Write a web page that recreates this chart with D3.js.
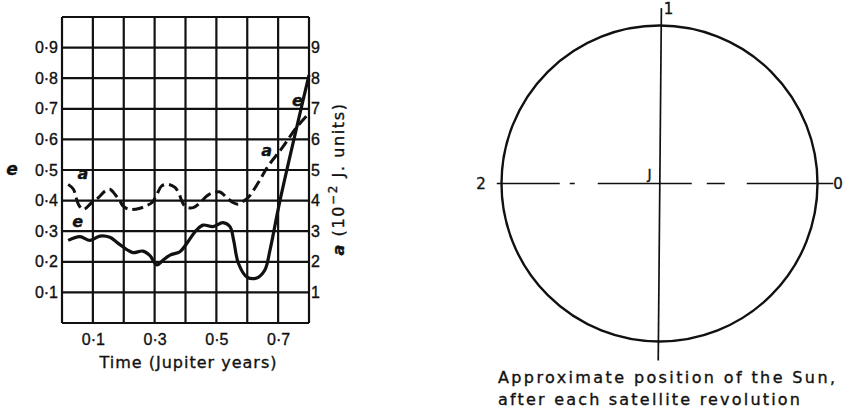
<!DOCTYPE html>
<html>
<head>
<meta charset="utf-8">
<script src="https://cdn.jsdelivr.net/npm/d3@7"></script>
<style>
  body { margin: 0; background: #fff; }
  svg { display: block; font-family: "DejaVu Sans", sans-serif; }
  svg text { stroke: #111; stroke-width: 0.35px; }
  .tick text { font-size: 16px; fill: #111; }
</style>
</head>
<body>
<script>
// eccentricity e (time in Jupiter years)
var eTime = [0.02, 0.058, 0.091, 0.123, 0.155, 0.18, 0.21, 0.23, 0.262, 0.285, 0.307, 0.327, 0.35, 0.382,
             0.404, 0.436, 0.457, 0.489, 0.521, 0.544, 0.556, 0.571, 0.598, 0.631, 0.657, 0.674, 0.706, 0.80];
var eVals = [0.27, 0.282, 0.27, 0.284, 0.28, 0.262, 0.24, 0.23, 0.235, 0.22, 0.19, 0.205, 0.222, 0.233,
             0.26, 0.304, 0.32, 0.315, 0.328, 0.315, 0.27, 0.196, 0.151, 0.147, 0.173, 0.24, 0.40, 0.81];

// semi-major axis a (10^-2 J. units), dashed curve
var aTime = [0.02, 0.037, 0.053, 0.069, 0.096, 0.118, 0.139, 0.155, 0.172, 0.188, 0.198, 0.22, 0.253, 0.269,
             0.291, 0.307, 0.323, 0.344, 0.366, 0.377, 0.398, 0.425, 0.447, 0.469, 0.49, 0.512, 0.533, 0.555,
             0.571, 0.587, 0.603, 0.636, 0.667, 0.713, 0.758, 0.80];
var aVals = [4.53, 4.37, 3.88, 3.71, 3.93, 4.10, 4.31, 4.37, 4.20, 3.98, 3.82, 3.71, 3.75, 3.82,
             3.93, 4.20, 4.48, 4.53, 4.43, 4.27, 3.82, 3.77, 3.93, 4.15, 4.26, 4.28, 4.10, 3.93,
             3.88, 3.98, 4.10, 4.59, 5.12, 5.72, 6.37, 6.85];

var eTicks = [0.1, 0.2, 0.3, 0.4, 0.5, 0.6, 0.7, 0.8, 0.9];
var aTicks = [1, 2, 3, 4, 5, 6, 7, 8, 9];
var timeTicks = [0.1, 0.3, 0.5, 0.7];

// Sun position diagram: revolution number and angle (deg)
var sunLabels = ["0", "1", "2"];
var sunAngles = [0, 90, 180];

var width = 848, height = 413;
var ink = "#111";

var svg = d3.select('body').append('svg')
    .attr('width', width)
    .attr('height', height);

// ---- left: e and a against time ----
var x = d3.scaleLinear().domain([0, 0.8]).range([62, 309]);
var y = d3.scaleLinear().domain([0, 1]).range([323, 17]);
var yA = d3.scaleLinear().domain([0, 10]).range([323, 17]);

var chart = svg.append('g');

// grid
chart.selectAll('line.vgrid')
    .data(d3.range(0, 9).map(function(i){ return i / 10; }))
  .enter().append('line')
    .attr('class', 'vgrid')
    .attr('x1', function(d){ return x(d); })
    .attr('x2', function(d){ return x(d); })
    .attr('y1', y(0)).attr('y2', y(1))
    .attr('stroke', ink).attr('stroke-width', 2.2);

chart.selectAll('line.hgrid')
    .data(d3.range(0, 11).map(function(i){ return i / 10; }))
  .enter().append('line')
    .attr('class', 'hgrid')
    .attr('x1', x(0)).attr('x2', x(0.8))
    .attr('y1', function(d){ return y(d); })
    .attr('y2', function(d){ return y(d); })
    .attr('stroke', ink).attr('stroke-width', 2.2);

var fmt = function(d){ return d.toFixed(1).replace('.', '\u00b7'); };

var left = chart.append('g')
    .attr('transform', 'translate(' + x(0) + ',0)')
    .call(d3.axisLeft(y).tickValues(eTicks).tickSize(0).tickPadding(4).tickFormat(fmt));
var right = chart.append('g')
    .attr('transform', 'translate(' + x(0.8) + ',0)')
    .call(d3.axisRight(yA).tickValues(aTicks).tickSize(0).tickPadding(2).tickFormat(d3.format('d')));
var bottom = chart.append('g')
    .attr('transform', 'translate(0,' + y(0) + ')')
    .call(d3.axisBottom(x).tickValues(timeTicks).tickSize(0).tickPadding(11).tickFormat(fmt));
[left, right, bottom].forEach(function(g){ g.select('.domain').remove(); });

// curves
var eLine = d3.line()
    .x(function(d, i){ return x(eTime[i]); })
    .y(function(d){ return y(d); })
    .curve(d3.curveCatmullRom.alpha(0.5));
var aLine = d3.line()
    .x(function(d, i){ return x(aTime[i]); })
    .y(function(d){ return yA(d); })
    .curve(d3.curveCatmullRom.alpha(0.5));

chart.append('path').datum(eVals)
    .attr('d', eLine)
    .attr('fill', 'none').attr('stroke', ink).attr('stroke-width', 3.2)
    .attr('stroke-linejoin', 'round');
chart.append('path').datum(aVals)
    .attr('d', aLine)
    .attr('fill', 'none').attr('stroke', ink).attr('stroke-width', 3)
    .attr('stroke-dasharray', '11,5');

// curve labels
var curveLabels = [
  {t: 'a', tx: 0.05, v: 0.47},
  {t: 'e', tx: 0.033, v: 0.315},
  {t: 'a', tx: 0.645, v: 0.545},
  {t: 'e', tx: 0.745, v: 0.71}
];
chart.selectAll('text.clab').data(curveLabels).enter().append('text')
    .attr('class', 'clab')
    .attr('x', function(d){ return x(d.tx); })
    .attr('y', function(d){ return y(d.v); })
    .attr('font-size', 16).attr('font-style', 'italic').attr('font-weight', 'bold')
    .attr('fill', ink)
    .text(function(d){ return d.t; });

// axis titles
svg.append('text')
    .attr('x', 12).attr('y', y(0.5) + 5)
    .attr('text-anchor', 'middle')
    .attr('font-size', 17).attr('font-weight', 'bold').attr('font-style', 'italic')
    .attr('fill', ink).text('e');

var rt = svg.append('text')
    .attr('transform', 'translate(344,179) rotate(-90)')
    .attr('text-anchor', 'middle')
    .attr('font-size', 16).attr('letter-spacing', 1.6).attr('fill', ink);
rt.append('tspan').attr('font-weight', 'bold').attr('font-style', 'italic').text('a');
rt.append('tspan').text('  (10');
rt.append('tspan').attr('font-size', 12).attr('dy', -7).text('\u22122');
rt.append('tspan').attr('dy', 7).text(' J. units)');

svg.append('text')
    .attr('x', (x(0) + x(0.8)) / 2 + 3).attr('y', 368)
    .attr('text-anchor', 'middle')
    .attr('font-size', 16).attr('letter-spacing', 1)
    .attr('fill', ink).text('Time (Jupiter years)');

// ---- right: approximate position of the Sun ----
var cx = d3.scaleLinear().domain([-1, 1]).range([501.5, 817.5]);
var cy = d3.scaleLinear().domain([-1, 1]).range([341.5, 25.5]);

var diag = svg.append('g');
diag.append('ellipse')
    .attr('cx', cx(0)).attr('cy', cy(0))
    .attr('rx', cx(1) - cx(0)).attr('ry', cy(-1) - cy(0))
    .attr('fill', 'none').attr('stroke', ink).attr('stroke-width', 2.4);

// vertical axis (slightly tilted in the original)
diag.append('line')
    .attr('x1', cx(0.012)).attr('y1', cy(1.11))
    .attr('x2', cx(-0.008)).attr('y2', cy(-1.12))
    .attr('stroke', ink).attr('stroke-width', 1.7);

// horizontal dash-dot axis
diag.append('line')
    .attr('x1', cx(-1.03)).attr('y1', cy(0))
    .attr('x2', cx(1.1)).attr('y2', cy(0))
    .attr('stroke', ink).attr('stroke-width', 1.7)
    .attr('stroke-dasharray', '63,10,5,23,94,15,18,22,90');

var labelPos = sunAngles.map(function(a, i){
  var rad = a * Math.PI / 180;
  return {t: sunLabels[i], px: Math.cos(rad) * 1.13, py: Math.sin(rad) * 1.13};
});
diag.selectAll('text.sun').data(labelPos).enter().append('text')
    .attr('class', 'sun')
    .attr('x', function(d){ return cx(d.px) + (d.t === '1' ? 9 : 0); })
    .attr('y', function(d){ return cy(d.py) + (d.t === '1' ? 9 : 5); })
    .attr('text-anchor', 'middle')
    .attr('font-size', 15).attr('fill', ink)
    .text(function(d){ return d.t; });

diag.append('text')
    .attr('x', cx(0) - 10).attr('y', cy(0) - 5)
    .attr('text-anchor', 'middle')
    .attr('font-size', 14).attr('fill', ink).text('J');

diag.append('text')
    .attr('x', 498).attr('y', 383)
    .attr('font-size', 16).attr('fill', ink)
    .attr('textLength', 337).attr('lengthAdjust', 'spacing')
    .text('Approximate position of the Sun,');
diag.append('text')
    .attr('x', 498).attr('y', 405)
    .attr('font-size', 16).attr('fill', ink)
    .attr('textLength', 302).attr('lengthAdjust', 'spacing')
    .text('after each satellite revolution');
</script>
</body>
</html>
